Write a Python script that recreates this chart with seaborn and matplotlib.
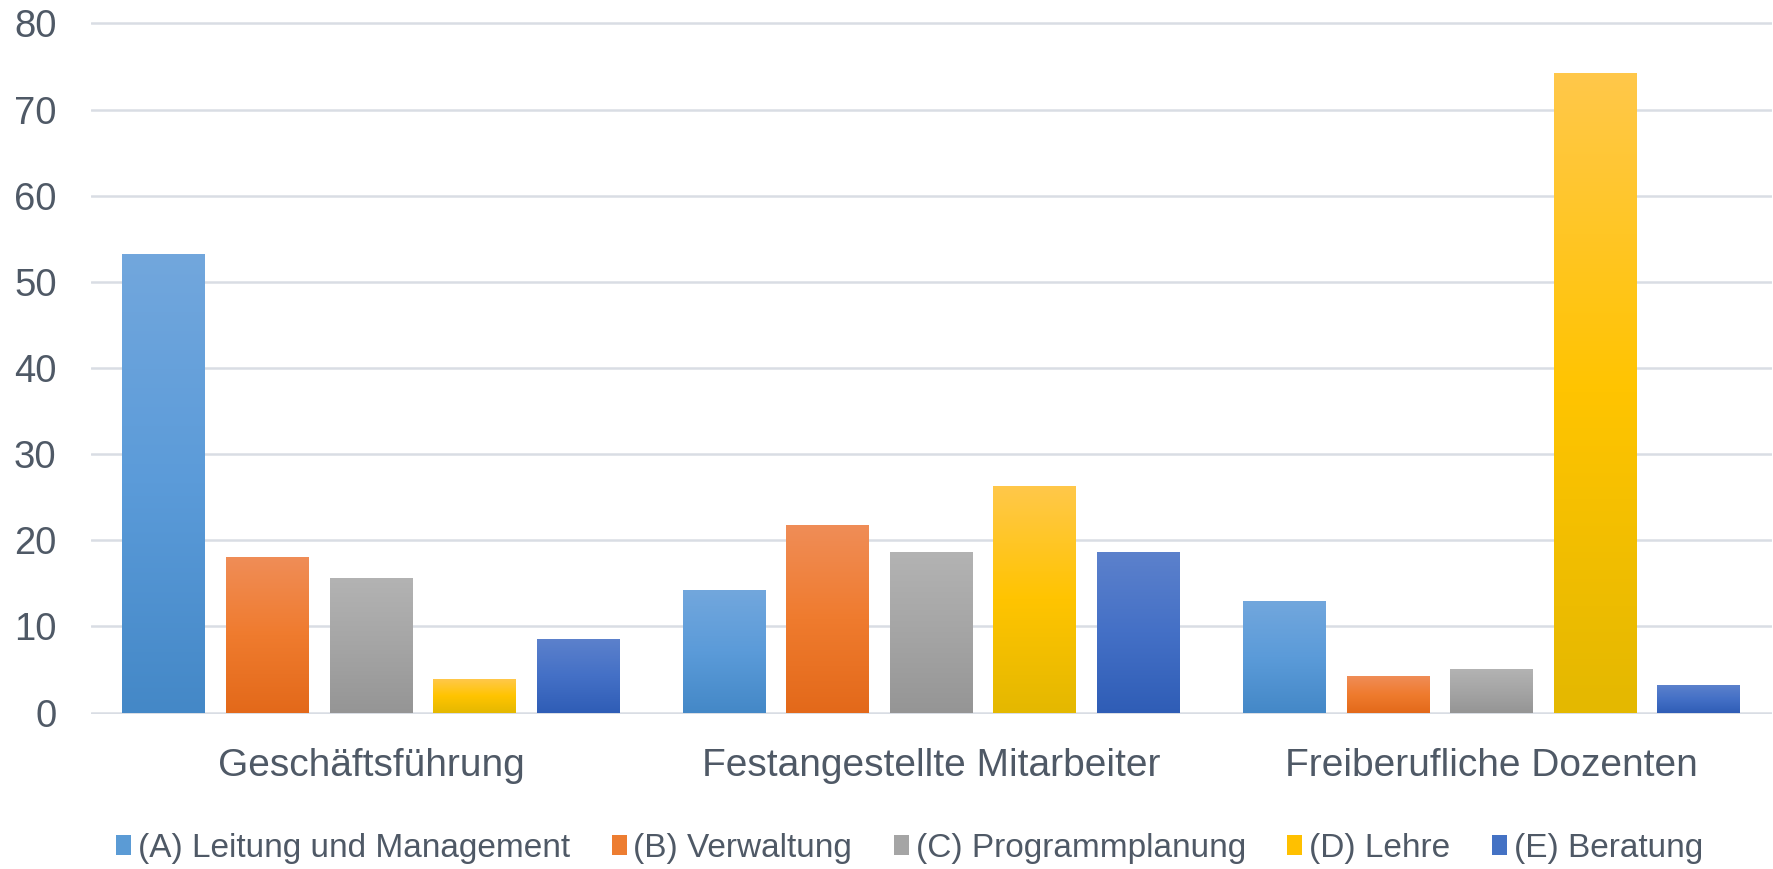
import numpy as np
import pandas as pd
import matplotlib
matplotlib.use("Agg")
import matplotlib.pyplot as plt
import seaborn as sns
from matplotlib.colors import LinearSegmentedColormap
from matplotlib.patches import Patch

# --- data -------------------------------------------------------------
groups = ["Geschäftsführung", "Festangestellte Mitarbeiter", "Freiberufliche Dozenten"]
areas = ["(A) Leitung und Management", "(B) Verwaltung", "(C) Programmplanung",
         "(D) Lehre", "(E) Beratung"]
leitung = [53.2, 14.2, 12.9]
verwaltung = [18.0, 21.8, 4.2]
programmplanung = [15.6, 18.6, 5.1]
lehre = [3.9, 26.3, 74.2]
beratung = [8.5, 18.6, 3.2]
y_ticks = [0, 10, 20, 30, 40, 50, 60, 70, 80]

series = [leitung, verwaltung, programmplanung, lehre, beratung]
df = pd.DataFrame({
    "gruppe": groups * len(areas),
    "bereich": [a for a in areas for _ in groups],
    "wert": [v for s in series for v in s],
})

# --- style ------------------------------------------------------------
base_colors = ["#5b9bd5", "#ed7d31", "#a5a5a5", "#ffc000", "#4472c4"]
gradients = [
    ["#4488c7", "#5b9bd9", "#72a7dd"],
    ["#e3691a", "#ef7b2e", "#f08d57"],
    ["#959595", "#a5a5a5", "#b3b3b3"],
    ["#e4b800", "#ffc400", "#ffc84a"],
    ["#2f5db6", "#4470c6", "#5c81cc"],
]
text_color = "#4f5966"
grid_color = "#d9dde4"

sns.set_theme(style="white")
plt.rcParams["font.family"] = ["Liberation Sans", "DejaVu Sans"]

fig = plt.figure(figsize=(17.73, 8.69), dpi=100)
ax = fig.add_axes([0.05116, 0.1781, 0.9483, 0.797])

sns.barplot(data=df, x="gruppe", y="wert", hue="bereich", order=groups,
            hue_order=areas, palette=base_colors, width=0.9235, gap=0.2,
            saturation=1, legend=False, ax=ax, zorder=3)

# vertical colour gradient inside every bar
grad = np.linspace(0, 1, 256).reshape(-1, 1)
for container, cols in zip(ax.containers, gradients):
    cmap = LinearSegmentedColormap.from_list("g", cols)
    for bar in container:
        x0, y0 = bar.get_x(), bar.get_y()
        w, h = bar.get_width(), bar.get_height()
        bar.set_edgecolor("none")
        im = ax.imshow(grad, cmap=cmap, origin="lower", aspect="auto",
                       extent=[x0, x0 + w, y0, y0 + h], zorder=4,
                       interpolation="bilinear")
        im.set_clip_path(bar)

ax.set_xlim(-0.5, 2.5)
ax.set_ylim(-0.2, 80.2)
ax.set_yticks(y_ticks)
ax.set_xlabel("")
ax.set_ylabel("")
for s in ax.spines.values():
    s.set_visible(False)
ax.yaxis.grid(True, color=grid_color, linewidth=1.8, zorder=0)
ax.xaxis.grid(False)
ax.set_axisbelow(True)
ax.tick_params(axis="y", length=0, pad=24.5, labelsize=27.5, labelcolor=text_color)
ax.tick_params(axis="x", length=0, pad=24, labelsize=28, labelcolor=text_color)

handles = [Patch(facecolor=c, edgecolor="none") for c in base_colors]
fig.legend(handles, areas, loc="center", bbox_to_anchor=(0.513, 1 - 848 / 869),
           ncol=5, frameon=False, fontsize=24, labelcolor=text_color,
           handlelength=0.45, handleheight=0.55, handletextpad=0.2,
           columnspacing=1.25)

fig.savefig("out.png", dpi=100, facecolor="white")
